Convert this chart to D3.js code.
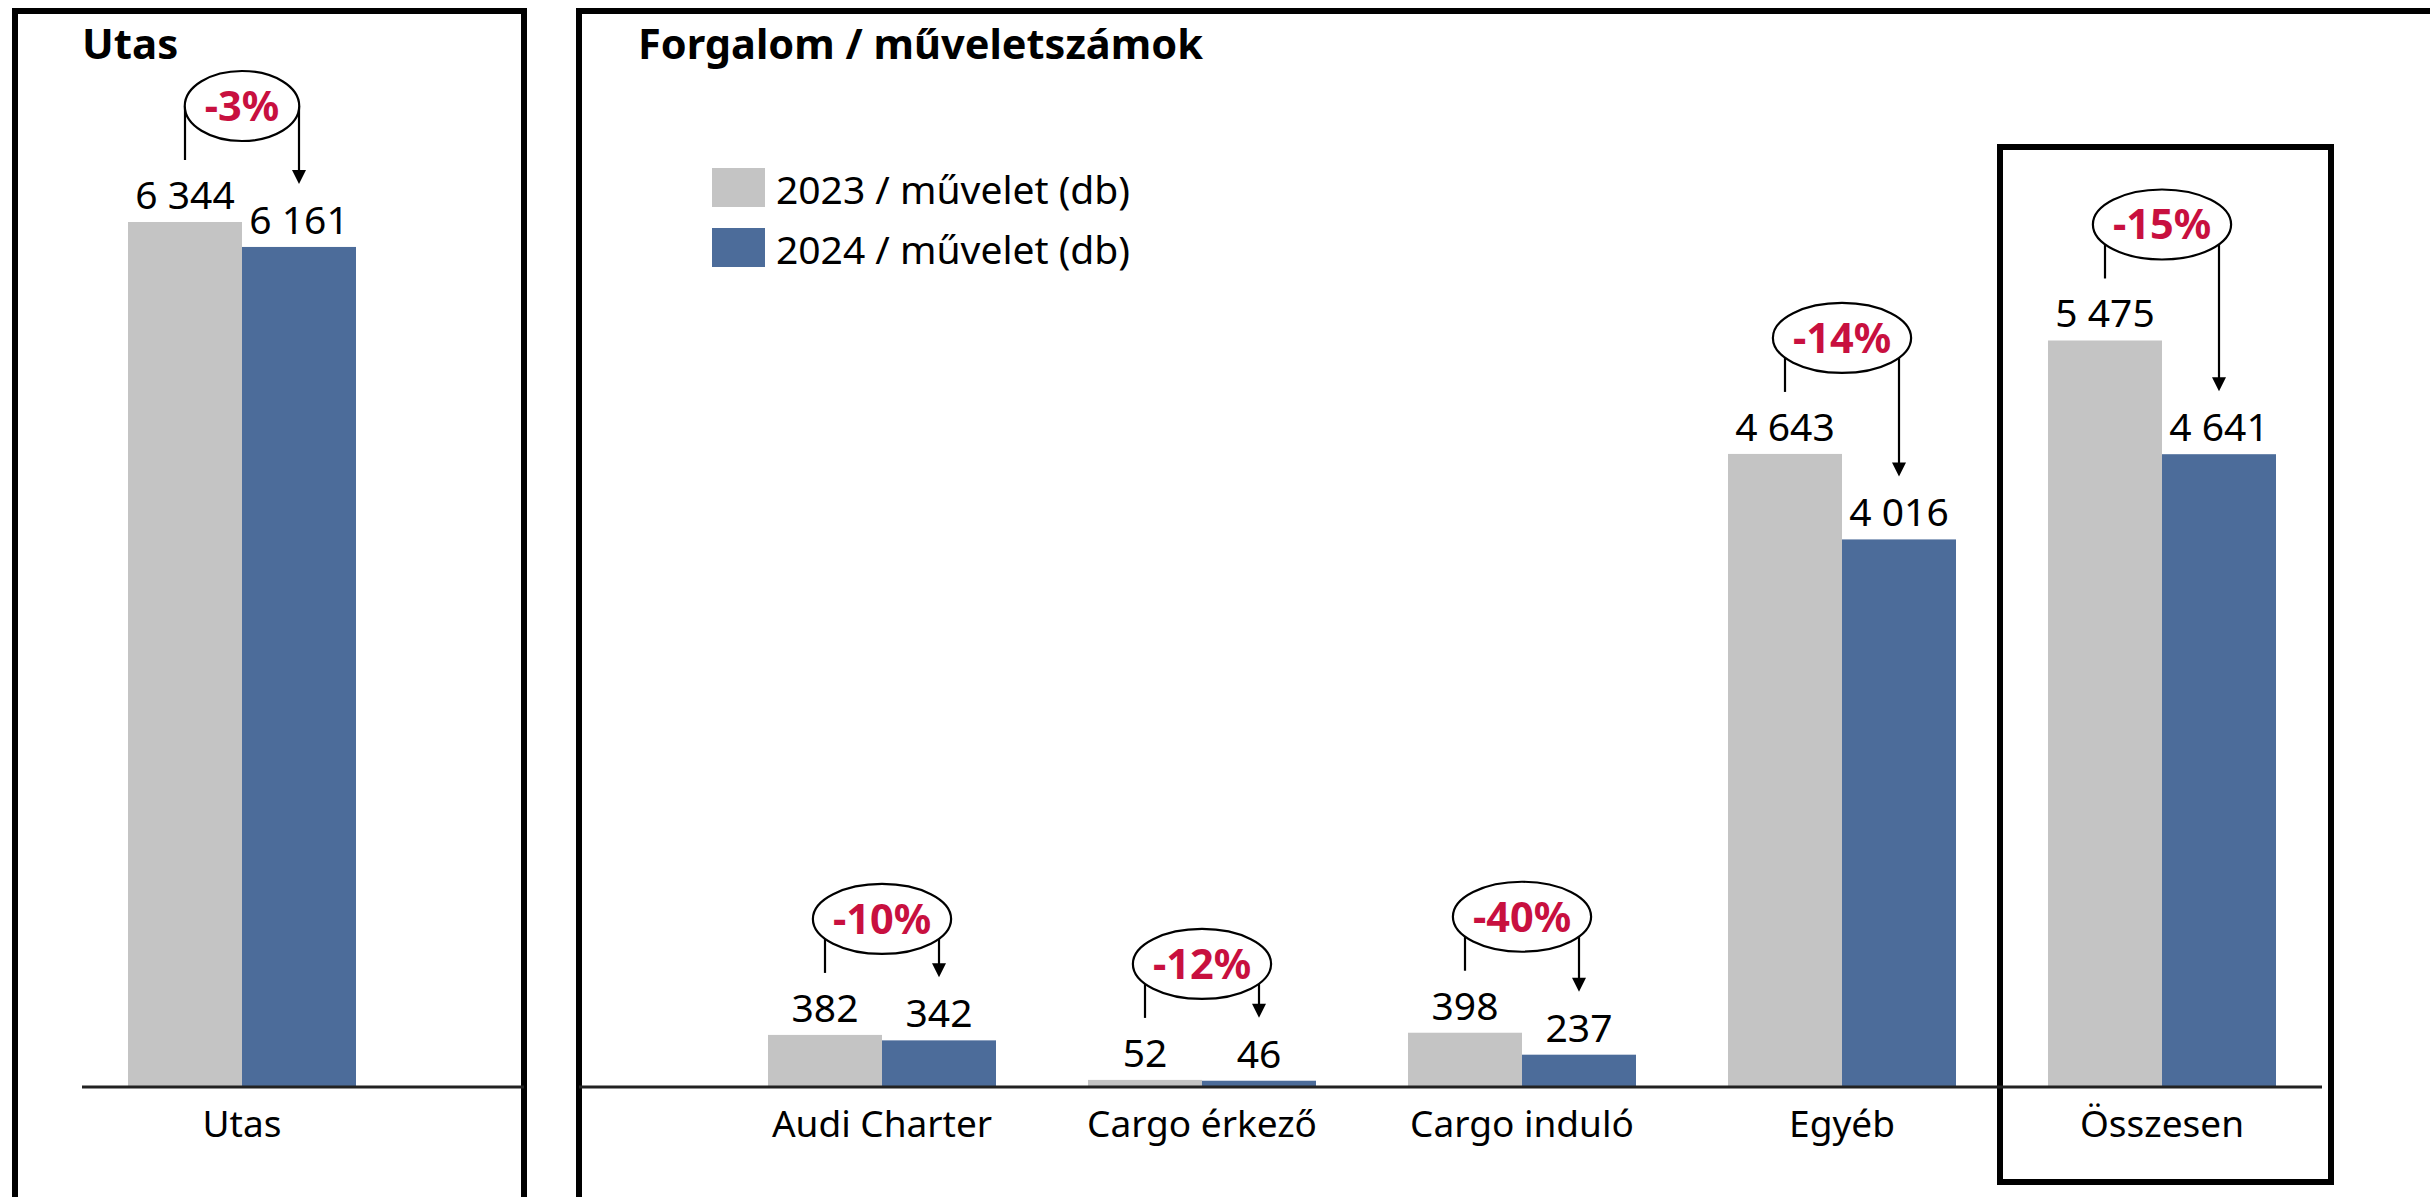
<!DOCTYPE html>
<html>
<head>
<meta charset="utf-8">
<script src="https://cdn.jsdelivr.net/npm/d3@7"></script>
<style>
  body { margin: 0; background: #fff; }
  text { font-family: "Noto Sans", "Open Sans", sans-serif; }
</style>
</head>
<body>
<div class="chart"></div>
<script>
var svgWidth = 2430;
var svgHeight = 1197;

// data
var leftCategories = ["Utas"];
var leftValues2023 = [6344];
var leftValues2024 = [6161];
var leftChange = ["-3%"];

var rightCategories = ["Audi Charter", "Cargo érkező", "Cargo induló", "Egyéb", "Összesen"];
var rightValues2023 = [382, 52, 398, 4643, 5475];
var rightValues2024 = [342, 46, 237, 4016, 4641];
var rightChange = ["-10%", "-12%", "-40%", "-14%", "-15%"];

var seriesNames = ["2023 / művelet (db)", "2024 / művelet (db)"];
var seriesKeys = ["2023", "2024"];
var colors = ["#c4c4c4", "#4c6c9a"];

var baseY = 1087;

var svg = d3.select(".chart")
  .append("svg")
  .attr("width", svgWidth)
  .attr("height", svgHeight);

var fmt = d3.formatLocale({ decimal: ",", thousands: " ", grouping: [3], currency: ["", ""] }).format(",d");

var yScale = d3.scaleLinear()
  .domain([0, 6344])
  .range([baseY, 222]);

var pad = 0.2875;
var xLeft = d3.scaleBand()
  .domain(leftCategories)
  .range([82, 402])
  .paddingInner(pad)
  .paddingOuter(pad / 2);

var xRight = d3.scaleBand()
  .domain(rightCategories)
  .range([722, 2322])
  .paddingInner(pad)
  .paddingOuter(pad / 2);

// panel frames
svg.append("rect")
  .attr("x", 15).attr("y", 11)
  .attr("width", 509).attr("height", 1400)
  .attr("fill", "none").attr("stroke", "#000").attr("stroke-width", 6);

svg.append("rect")
  .attr("x", 579).attr("y", 11)
  .attr("width", 2000).attr("height", 1400)
  .attr("fill", "none").attr("stroke", "#000").attr("stroke-width", 6);

// titles
svg.append("text")
  .attr("x", 82).attr("y", 59)
  .attr("font-size", "42px").attr("font-weight", "bold")
  .text("Utas");

svg.append("text")
  .attr("x", 638).attr("y", 59)
  .attr("font-size", "41.5px").attr("font-weight", "bold")
  .text("Forgalom / műveletszámok");

// legend
var legend = svg.append("g").selectAll("g")
  .data(seriesNames)
  .enter()
  .append("g")
  .attr("transform", (d, i) => `translate(712, ${168 + i * 60})`);

legend.append("rect")
  .attr("width", 53).attr("height", 39)
  .attr("fill", (d, i) => colors[i]);

legend.append("text")
  .attr("x", 64).attr("y", 36)
  .attr("font-size", "39px")
  .text(d => d);

// Összesen highlight box
var totX = xRight("Összesen") + xRight.bandwidth() / 2;
svg.append("rect")
  .attr("x", totX - 162).attr("y", 147)
  .attr("width", 331).attr("height", 1035)
  .attr("fill", "none").attr("stroke", "#000").attr("stroke-width", 6);

function drawPanel(xScale, cats, v23, v24, changes, axisFrom, axisTo) {
  var rows = cats.map(function(c, i) {
    return { cat: c, vals: [v23[i], v24[i]], change: changes[i] };
  });
  var x1 = d3.scaleBand().domain(seriesKeys).range([0, xScale.bandwidth()]);
  var bw = x1.bandwidth();

  var groups = svg.append("g").selectAll("g")
    .data(rows)
    .enter()
    .append("g")
    .attr("transform", d => `translate(${xScale(d.cat)}, 0)`);

  groups.selectAll("rect")
    .data(d => d.vals)
    .enter()
    .append("rect")
    .attr("x", (d, i) => x1(seriesKeys[i]))
    .attr("y", d => yScale(d))
    .attr("width", bw)
    .attr("height", d => baseY - yScale(d))
    .attr("fill", (d, i) => colors[i]);

  groups.selectAll(".val")
    .data(d => d.vals)
    .enter()
    .append("text")
    .attr("class", "val")
    .attr("x", (d, i) => x1(seriesKeys[i]) + bw / 2)
    .attr("y", d => yScale(d) - 13)
    .attr("text-anchor", "middle")
    .attr("font-size", "39px")
    .text(d => fmt(d));

  // axis line
  svg.append("line")
    .attr("x1", axisFrom).attr("x2", axisTo)
    .attr("y1", baseY).attr("y2", baseY)
    .attr("stroke", "#222").attr("stroke-width", 3);

  // category labels
  svg.append("g").selectAll("text")
    .data(rows)
    .enter()
    .append("text")
    .attr("x", d => xScale(d.cat) + xScale.bandwidth() / 2)
    .attr("y", 1137)
    .attr("text-anchor", "middle")
    .attr("font-size", "37px")
    .text(d => d.cat);

  // change annotations
  groups.each(function(d) {
    var g = d3.select(this);
    var xa = x1("2023") + bw / 2;
    var xb = x1("2024") + bw / 2;
    var top23 = yScale(d.vals[0]);
    var top24 = yScale(d.vals[1]);
    var cy = top23 - 116;
    var tipY = top24 - 63;

    g.append("line")
      .attr("x1", xa).attr("x2", xa)
      .attr("y1", cy).attr("y2", top23 - 62)
      .attr("stroke", "#000").attr("stroke-width", 2.2);

    g.append("line")
      .attr("x1", xb).attr("x2", xb)
      .attr("y1", cy).attr("y2", tipY - 12)
      .attr("stroke", "#000").attr("stroke-width", 2.2);

    g.append("path")
      .attr("d", `M${xb - 7},${tipY - 14} L${xb + 7},${tipY - 14} L${xb},${tipY} Z`)
      .attr("fill", "#000");

    var ell = g.append("ellipse")
      .attr("cx", bw).attr("cy", cy)
      .attr("ry", 35)
      .attr("fill", "#fff").attr("stroke", "#000").attr("stroke-width", 2.2);

    var t = g.append("text")
      .attr("x", bw).attr("y", cy + 15)
      .attr("text-anchor", "middle")
      .attr("font-size", "41.5px")
      .attr("font-weight", "bold")
      .attr("fill", "#c8103f")
      .text(d.change);

    ell.attr("rx", t.node().getComputedTextLength() / 2 + 20);
  });
}

drawPanel(xLeft, leftCategories, leftValues2023, leftValues2024, leftChange, 82, 524);
drawPanel(xRight, rightCategories, rightValues2023, rightValues2024, rightChange, 579, 2322);
</script>
</body>
</html>
